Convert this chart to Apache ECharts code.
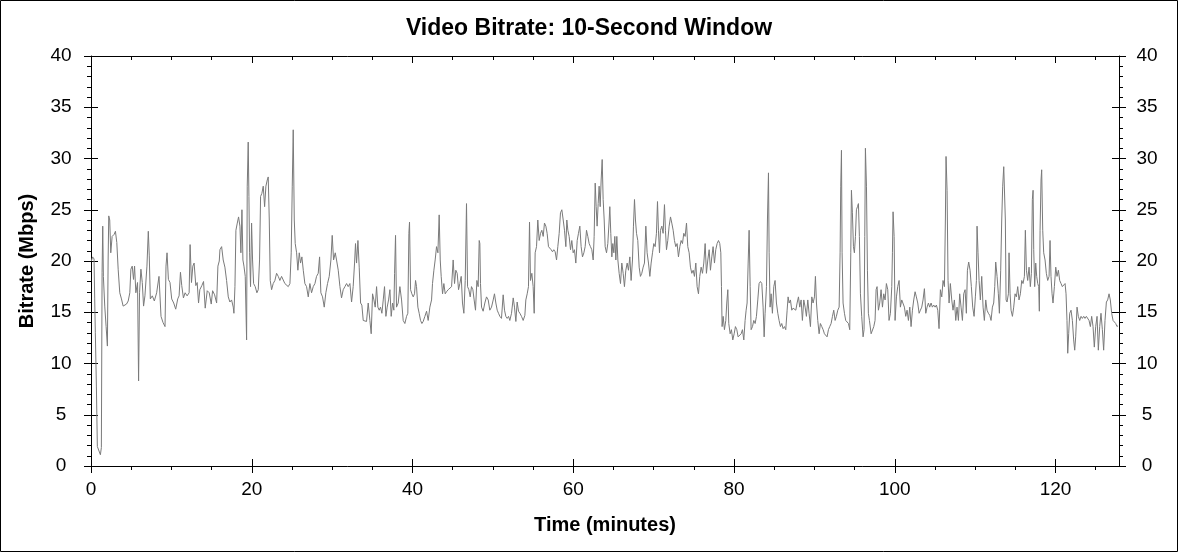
<!DOCTYPE html>
<html>
<head>
<meta charset="utf-8">
<script src="https://cdn.jsdelivr.net/npm/echarts@6/dist/echarts.min.js"></script>
<style>
html,body{margin:0;padding:0;background:#fff;}
#chart{width:1178px;height:552px;}
</style>
</head>
<body>
<div id="chart"></div>
<script>
// Time (minutes) vs video bitrate (Mbps), in segments
var bitrate_00_16 = [[0.04,20.0],[0.2,20.4],[0.38,20.2],[0.46,16.3],[0.54,13.0],[0.67,7.8],[0.79,1.9],[1.0,1.8],[1.17,1.1],[1.29,1.8],[1.38,18.9],[1.46,23.4],[1.54,18.5],[1.71,15.6],[1.88,13.6],[2.04,11.7],[2.13,20.0],[2.21,24.4],[2.33,24.0],[2.46,20.8],[2.63,22.4],[2.88,22.6],[3.04,22.9],[3.21,21.8],[3.38,19.2],[3.58,16.9],[3.79,16.3],[4.0,15.6],[4.42,15.8],[4.63,16.1],[4.83,16.9],[4.96,19.2],[5.13,19.5],[5.29,18.2],[5.42,19.5],[5.58,16.9],[5.79,17.9],[5.92,8.3],[6.04,16.9],[6.21,19.2],[6.38,17.9],[6.54,15.6],[6.71,16.6],[6.96,19.5],[7.13,22.9],[7.25,20.5],[7.38,16.3],[7.63,16.6],[7.88,16.1],[8.17,16.9],[8.46,18.5],[8.71,14.6],[8.96,14.0],[9.21,13.6],[9.33,19.5],[9.46,20.8],[9.63,18.2],[9.83,17.9],[10.04,16.3],[10.29,15.9],[10.54,15.3],[10.79,16.3],[10.96,16.6],[11.13,18.9],[11.29,17.6],[11.5,16.4],[11.71,16.9],[11.96,16.6],[12.21,16.9],[12.33,21.6],[12.5,17.9],[12.67,19.5],[12.83,19.8],[13.04,17.6],[13.21,17.9],[13.38,15.9],[13.54,17.2],[13.79,17.6],[14.0,18.0],[14.21,15.4],[14.46,17.1],[14.71,16.9],[14.96,15.8],[15.13,17.1],[15.38,16.7],[15.63,15.9],[15.79,19.5],[15.96,20.0]];

var bitrate_16_32 = [[16.04,21.1],[16.25,21.4],[16.45,20.1],[16.66,19.4],[16.87,18.1],[17.08,16.5],[17.28,16.0],[17.49,16.2],[17.70,15.5],[17.78,14.9],[17.91,17.5],[18.03,23.0],[18.20,23.7],[18.36,24.3],[18.53,23.4],[18.65,20.8],[18.78,25.0],[18.90,20.1],[19.03,19.5],[19.19,18.5],[19.36,12.3],[19.44,27.3],[19.56,31.6],[19.65,26.3],[19.73,20.8],[19.85,17.5],[19.98,23.7],[20.10,20.1],[20.23,17.8],[20.43,17.5],[20.64,16.9],[20.81,17.2],[20.97,20.1],[21.10,26.3],[21.26,26.6],[21.43,27.3],[21.60,25.3],[21.76,27.3],[21.93,27.9],[22.05,28.2],[22.18,24.0],[22.30,18.1],[22.47,17.2],[22.67,17.8],[22.88,18.1],[23.09,18.8],[23.30,18.5],[23.50,18.1],[23.71,18.5],[23.92,18.5],[24.12,17.8],[24.33,17.7],[24.54,17.5],[24.75,17.8],[24.91,20.8],[25.04,27.3],[25.16,32.8],[25.29,24.0],[25.41,21.7],[25.58,20.8],[25.74,19.1],[25.91,20.8],[26.07,19.8],[26.24,20.4],[26.41,19.1],[26.61,17.8],[26.82,17.5],[27.03,16.5],[27.23,17.8],[27.44,16.9],[27.65,17.5],[27.86,17.8],[28.06,18.5],[28.27,18.8],[28.44,20.4],[28.60,16.9],[28.81,16.5],[29.02,15.5],[29.22,16.9],[29.43,17.8],[29.64,18.5],[29.85,20.1],[30.01,22.5],[30.18,20.1],[30.39,20.8],[30.55,20.1],[30.76,19.1],[30.97,17.5],[31.17,16.4],[31.38,17.2],[31.59,17.5],[31.80,17.8],[32.00,17.5],[32.21,17.8]];

var bitrate_32_48 = [[32.42,16.0],[32.62,17.5],[32.79,19.8],[32.91,21.7],[33.04,19.8],[33.21,22.0],[33.37,19.4],[33.54,15.9],[33.70,15.7],[33.87,14.2],[34.08,14.2],[34.28,14.1],[34.49,15.9],[34.70,14.2],[34.86,12.9],[35.03,16.8],[35.20,16.2],[35.36,15.5],[35.53,17.5],[35.69,15.5],[35.86,15.2],[36.02,15.5],[36.19,14.9],[36.36,16.2],[36.52,17.5],[36.69,14.6],[36.85,15.5],[37.02,16.2],[37.19,17.2],[37.35,14.6],[37.52,15.9],[37.68,15.2],[37.77,18.8],[37.89,22.5],[38.01,15.5],[38.22,15.9],[38.43,17.5],[38.64,16.2],[38.84,14.2],[39.05,13.9],[39.26,14.6],[39.42,14.9],[39.55,22.7],[39.63,23.8],[39.76,17.2],[39.92,16.8],[40.09,16.5],[40.25,16.8],[40.38,18.1],[40.50,17.5],[40.67,15.5],[40.83,14.9],[41.00,14.2],[41.17,13.9],[41.33,14.1],[41.54,14.6],[41.75,15.1],[41.95,14.2],[42.16,15.5],[42.37,16.2],[42.49,17.8],[42.66,19.1],[42.82,20.1],[42.99,21.4],[43.16,20.8],[43.32,24.5],[43.45,20.1],[43.57,18.5],[43.74,16.8],[43.90,17.8],[44.07,16.8],[44.23,17.0],[44.44,17.2],[44.65,17.2],[44.86,17.5],[45.06,20.1],[45.23,17.8],[45.39,19.1],[45.56,18.8],[45.73,17.2],[45.89,17.8],[46.06,18.5],[46.22,15.9],[46.39,14.9],[46.56,18.1],[46.72,25.6],[46.85,17.5],[47.01,17.2],[47.18,16.5],[47.34,17.5],[47.51,17.2],[47.67,16.2],[47.84,15.2],[48.01,18.1],[48.17,17.5],[48.30,22.0]];

var bitrate_48_64 = [[48.38,21.7],[48.46,17.8],[48.59,15.5],[48.79,15.1],[49.00,15.9],[49.21,16.5],[49.42,16.2],[49.62,15.2],[49.83,15.5],[50.04,16.2],[50.20,16.8],[50.37,15.9],[50.54,15.2],[50.70,14.9],[50.87,14.6],[51.07,14.4],[51.28,16.7],[51.45,15.2],[51.61,14.6],[51.78,14.4],[51.95,14.6],[52.11,14.2],[52.32,14.9],[52.53,16.4],[52.69,15.5],[52.86,14.1],[53.02,16.0],[53.19,15.1],[53.36,14.9],[53.56,14.6],[53.77,14.2],[53.98,14.7],[54.10,16.2],[54.27,16.8],[54.43,17.5],[54.56,23.8],[54.68,18.1],[54.85,18.8],[55.01,17.5],[55.14,14.9],[55.26,20.8],[55.43,21.4],[55.59,24.0],[55.76,22.0],[55.93,22.7],[56.09,23.0],[56.26,22.4],[56.42,23.7],[56.59,23.4],[56.75,22.7],[56.92,21.4],[57.09,21.4],[57.25,21.1],[57.42,20.9],[57.58,21.1],[57.75,20.9],[57.92,20.1],[58.08,21.4],[58.25,22.7],[58.41,24.7],[58.58,25.0],[58.75,24.0],[58.91,23.0],[59.08,21.4],[59.20,24.0],[59.33,23.0],[59.49,22.4],[59.66,21.1],[59.82,22.0],[59.99,20.8],[60.15,21.1],[60.32,19.8],[60.49,22.0],[60.65,22.7],[60.82,23.4],[60.98,21.4],[61.15,20.4],[61.32,20.8],[61.48,21.4],[61.65,23.0],[61.81,22.4],[61.98,21.7],[62.14,21.4],[62.31,21.1],[62.48,20.1],[62.60,22.4],[62.73,27.6],[62.85,25.3],[62.97,23.4],[63.10,25.6],[63.22,27.3],[63.35,25.3],[63.47,27.9],[63.60,29.9],[63.72,26.0],[63.85,24.0],[63.97,21.4],[64.14,20.8],[64.30,21.7],[64.47,24.0]];

var bitrate_64_80 = [[64.55,25.3],[64.67,22.7],[64.80,20.4],[64.92,21.7],[65.05,20.8],[65.17,22.4],[65.30,20.1],[65.42,22.4],[65.55,20.1],[65.71,18.8],[65.88,17.8],[66.04,19.8],[66.21,18.8],[66.37,17.5],[66.54,19.1],[66.71,19.8],[66.87,19.1],[67.04,20.4],[67.20,18.1],[67.37,20.1],[67.49,23.4],[67.62,26.0],[67.74,24.0],[67.87,22.7],[68.03,22.0],[68.20,19.4],[68.36,18.5],[68.53,18.8],[68.70,19.4],[68.86,19.8],[69.03,23.4],[69.19,20.8],[69.36,19.8],[69.53,18.5],[69.69,19.8],[69.86,20.8],[70.02,21.7],[70.19,21.4],[70.35,22.7],[70.48,25.8],[70.60,23.0],[70.73,20.8],[70.85,23.0],[71.02,23.4],[71.18,22.7],[71.35,25.5],[71.47,23.0],[71.60,21.1],[71.76,22.0],[71.93,23.4],[72.10,24.3],[72.26,23.7],[72.43,23.0],[72.59,22.0],[72.76,21.4],[72.92,21.7],[73.09,20.4],[73.26,21.4],[73.42,22.0],[73.59,21.7],[73.75,22.7],[73.92,22.4],[74.09,23.7],[74.25,21.4],[74.42,20.8],[74.58,19.4],[74.75,18.8],[74.92,19.1],[75.08,18.5],[75.25,19.8],[75.41,17.5],[75.58,16.8],[75.74,18.5],[75.91,19.4],[76.08,18.8],[76.24,19.8],[76.41,21.7],[76.57,18.8],[76.74,20.1],[76.91,21.1],[77.07,19.1],[77.24,20.4],[77.40,21.4],[77.57,19.8],[77.73,21.1],[77.90,21.7],[78.07,22.0],[78.23,21.7],[78.36,20.8],[78.44,17.5],[78.52,13.6],[78.65,14.6],[78.81,13.3],[78.98,14.2],[79.10,15.9],[79.23,17.2],[79.35,13.9],[79.52,12.9],[79.68,13.3],[79.85,12.3],[80.02,12.9],[80.18,13.6],[80.35,13.3],[80.51,12.6],[80.68,12.5]];

var bitrate_80_97 = [[80.89,12.9],[81.05,13.3],[81.22,12.3],[81.38,14.2],[81.51,15.2],[81.63,15.9],[81.76,19.8],[81.88,23.0],[82.01,17.5],[82.13,13.3],[82.30,13.6],[82.46,14.2],[82.63,13.9],[82.79,14.6],[82.96,16.2],[83.12,17.8],[83.29,18.0],[83.46,17.8],[83.62,15.5],[83.75,12.6],[83.87,14.9],[84.04,17.5],[84.16,24.0],[84.29,28.6],[84.37,20.8],[84.49,15.5],[84.62,16.8],[84.78,14.9],[84.95,17.5],[85.11,18.1],[85.28,15.9],[85.45,14.9],[85.61,14.2],[85.78,13.6],[85.94,13.9],[86.11,13.4],[86.28,13.6],[86.44,13.3],[86.61,15.2],[86.73,16.5],[86.86,15.9],[87.02,16.2],[87.19,15.2],[87.35,15.4],[87.52,15.5],[87.69,15.2],[87.85,15.9],[88.02,16.5],[88.18,15.5],[88.35,16.2],[88.51,14.2],[88.68,16.2],[88.85,15.5],[89.01,14.6],[89.18,16.2],[89.34,14.9],[89.51,13.6],[89.68,16.5],[89.84,15.9],[90.01,16.5],[90.13,18.5],[90.26,15.9],[90.42,14.2],[90.59,12.9],[90.75,13.9],[90.92,13.6],[91.09,13.3],[91.25,12.9],[91.42,12.9],[91.58,12.6],[91.75,13.3],[91.91,13.6],[92.08,13.9],[92.25,14.6],[92.41,15.2],[92.58,14.2],[92.74,14.6],[92.91,15.2],[93.08,15.5],[93.20,20.8],[93.28,27.3],[93.37,30.8],[93.45,20.8],[93.57,15.9],[93.74,14.9],[93.90,14.2],[94.07,14.2],[94.24,13.9],[94.40,13.3],[94.53,20.8],[94.61,26.9],[94.73,24.7],[94.86,21.4],[94.98,20.8],[95.11,22.4],[95.23,25.0],[95.36,25.3],[95.48,25.6],[95.60,22.4],[95.73,16.8],[95.89,14.6],[96.06,12.6],[96.18,13.3],[96.27,22.4],[96.35,31.0],[96.48,27.3],[96.60,19.1],[96.72,14.9],[96.85,14.2]];

var bitrate_97_113 = [[97.06,12.9],[97.22,12.8],[97.39,13.6],[97.55,14.2],[97.68,17.2],[97.80,17.5],[97.97,15.2],[98.13,15.9],[98.30,17.2],[98.47,15.5],[98.63,16.8],[98.80,16.2],[98.96,17.8],[99.13,17.2],[99.29,14.2],[99.46,14.9],[99.63,17.5],[99.71,20.8],[99.79,24.8],[99.92,22.4],[100.04,14.2],[100.21,16.5],[100.37,17.5],[100.54,18.1],[100.70,15.5],[100.87,16.2],[101.04,16.2],[101.20,15.5],[101.37,14.6],[101.53,15.2],[101.70,14.2],[101.87,15.5],[102.03,13.6],[102.20,15.2],[102.36,16.2],[102.53,17.0],[102.69,16.5],[102.86,15.9],[103.03,14.9],[103.19,15.2],[103.36,15.5],[103.52,16.2],[103.69,17.3],[103.86,14.9],[104.02,15.5],[104.19,15.9],[104.35,15.5],[104.52,15.9],[104.68,15.5],[104.85,15.7],[105.02,15.5],[105.18,15.7],[105.35,15.2],[105.51,13.4],[105.68,17.2],[105.85,16.5],[106.01,18.1],[106.18,17.5],[106.30,24.0],[106.38,30.2],[106.51,26.9],[106.63,18.1],[106.76,15.9],[106.92,17.8],[107.09,16.2],[107.25,15.2],[107.42,16.2],[107.59,14.2],[107.75,15.5],[107.92,14.2],[108.08,16.8],[108.25,15.5],[108.42,14.2],[108.58,16.8],[108.75,17.2],[108.91,14.9],[109.04,19.1],[109.20,19.9],[109.37,19.1],[109.53,17.5],[109.70,15.5],[109.87,14.6],[110.03,16.5],[110.16,18.1],[110.24,23.4],[110.36,20.8],[110.49,18.1],[110.65,16.2],[110.82,18.5],[110.99,15.5],[111.15,14.2],[111.32,16.2],[111.48,15.2],[111.65,14.9],[111.82,14.7],[111.98,14.2],[112.15,15.5],[112.31,15.9],[112.44,17.5],[112.56,19.9],[112.73,18.5],[112.89,16.8],[113.02,14.9]];

var bitrate_113_128 = [[113.18,19.1],[113.31,24.0],[113.43,27.3],[113.56,29.2],[113.68,29.2],[113.76,24.0],[113.85,16.2],[113.97,16.0],[114.14,16.8],[114.22,20.8],[114.35,16.8],[114.47,15.2],[114.64,14.6],[114.80,15.5],[114.97,16.8],[115.13,16.5],[115.30,17.5],[115.46,16.2],[115.63,16.8],[115.80,18.1],[115.96,17.8],[116.13,18.5],[116.25,23.0],[116.38,19.1],[116.54,18.1],[116.71,19.4],[116.87,17.5],[117.00,18.8],[117.12,26.0],[117.21,26.9],[117.29,21.1],[117.41,17.5],[117.54,19.8],[117.66,18.5],[117.79,17.8],[117.91,17.5],[117.99,15.1],[118.08,23.0],[118.20,27.9],[118.28,28.9],[118.41,23.0],[118.53,20.8],[118.70,20.1],[118.86,18.8],[119.03,18.1],[119.20,18.5],[119.32,22.0],[119.44,18.5],[119.57,16.8],[119.69,15.9],[119.86,17.5],[120.03,19.4],[120.19,18.5],[120.36,19.1],[120.52,18.1],[120.69,17.8],[120.85,17.5],[121.02,17.5],[121.19,17.8],[121.31,16.8],[121.43,14.2],[121.52,11.0],[121.64,12.9],[121.77,14.9],[121.93,15.2],[122.10,14.2],[122.26,12.3],[122.39,11.3],[122.51,12.6],[122.68,15.5],[122.84,14.6],[123.01,14.2],[123.18,14.6],[123.34,14.4],[123.51,14.6],[123.67,14.4],[123.84,14.6],[124.01,14.7],[124.17,14.2],[124.34,13.6],[124.50,14.6],[124.67,13.6],[124.83,11.6],[125.00,13.6],[125.17,14.6],[125.33,11.3],[125.50,13.6],[125.66,14.9],[125.83,13.3],[125.99,11.3],[126.16,14.2],[126.33,16.0],[126.49,16.2],[126.66,16.8],[126.82,16.2],[126.99,14.9],[127.16,14.2],[127.32,14.2],[127.49,13.9],[127.65,13.6],[127.78,13.7]];

var xMajorTicks = [0, 20, 40, 60, 80, 100, 120];
var xMinorTicks = [5, 10, 15, 25, 30, 35, 45, 50, 55, 65, 70, 75, 85, 90, 95, 105, 110, 115, 125];
var xMax = 127.9;
var yMin = 0, yMax = 40, yStep = 5;

var titleText = 'Video Bitrate: 10-Second Window';
var xName = 'Time (minutes)';
var yName = 'Bitrate (Mbps)';

var series = [].concat(bitrate_00_16, bitrate_16_32, bitrate_32_48, bitrate_48_64,
                       bitrate_64_80, bitrate_80_97, bitrate_97_113, bitrate_113_128);

var FONT = 'Liberation Sans, Arial, sans-serif';
var BLACK = '#000';

function xAx(o) {
  return Object.assign({
    type: 'value', min: 0, max: xMax, position: 'bottom',
    axisLine: { show: false, onZero: false, lineStyle: { color: BLACK, width: 1 } },
    axisTick: { show: false },
    axisLabel: { show: false },
    splitLine: { show: false }
  }, o);
}
function yAx(o) {
  return Object.assign({
    type: 'value', min: yMin, max: yMax, interval: yStep, position: 'left',
    axisLine: { show: false, onZero: false, lineStyle: { color: BLACK, width: 1 } },
    axisTick: { show: false },
    axisLabel: { show: false },
    splitLine: { show: false }
  }, o);
}

var chart = echarts.init(document.getElementById('chart'), null, { renderer: 'canvas' });
chart.setOption({
  animation: false,
  backgroundColor: '#fff',
  textStyle: { fontFamily: FONT },
  title: {
    text: titleText, left: 'center', top: 17, padding: 0,
    textStyle: { fontFamily: FONT, fontSize: 23, fontWeight: 'bold', color: BLACK }
  },
  graphic: [{
    type: 'rect', silent: true, z: 100,
    shape: { x: 0.5, y: 0.5, width: 1177, height: 551 },
    style: { fill: 'none', stroke: BLACK, lineWidth: 1 }
  }],
  grid: { left: 91, right: 59, top: 56, bottom: 86, containLabel: false },
  xAxis: [
    xAx({
      name: xName, nameLocation: 'middle', nameGap: 49,
      nameTextStyle: { fontFamily: FONT, fontSize: 20, fontWeight: 'bold', color: BLACK },
      axisLine: { show: true, onZero: false, lineStyle: { color: BLACK, width: 1 } },
      axisTick: { show: true, customValues: xMajorTicks, length: 7, lineStyle: { color: BLACK } },
      axisLabel: { show: true, customValues: xMajorTicks, margin: 14, color: BLACK, fontSize: 19, fontFamily: FONT }
    }),
    xAx({ axisTick: { show: true, inside: true, customValues: xMajorTicks, length: 7, lineStyle: { color: BLACK } } }),
    xAx({ axisTick: { show: true, customValues: xMinorTicks, length: 4, lineStyle: { color: BLACK } } }),
    xAx({
      position: 'top',
      axisLine: { show: true, onZero: false, lineStyle: { color: BLACK, width: 1 } },
      axisTick: { show: true, inside: true, customValues: xMajorTicks, length: 7, lineStyle: { color: BLACK } }
    }),
    xAx({ position: 'top', axisTick: { show: true, inside: true, customValues: xMinorTicks, length: 4, lineStyle: { color: BLACK } } })
  ],
  yAxis: [
    yAx({
      name: yName, nameLocation: 'middle', nameGap: 54, nameRotate: 90,
      nameTextStyle: { fontFamily: FONT, fontSize: 20, fontWeight: 'bold', color: BLACK },
      axisLine: { show: true, onZero: false, lineStyle: { color: BLACK, width: 1 } },
      axisTick: { show: true, length: 7, lineStyle: { color: BLACK } },
      minorTick: { show: true, splitNumber: 5, length: 4, lineStyle: { color: BLACK } },
      axisLabel: { show: true, margin: 30, align: 'center', color: BLACK, fontSize: 19, fontFamily: FONT }
    }),
    yAx({ axisTick: { show: true, inside: true, length: 7, lineStyle: { color: BLACK } } }),
    yAx({
      position: 'right',
      axisLine: { show: true, onZero: false, lineStyle: { color: BLACK, width: 1 } },
      axisTick: { show: true, length: 7, lineStyle: { color: BLACK } },
      minorTick: { show: true, splitNumber: 5, length: 4, lineStyle: { color: BLACK } },
      axisLabel: { show: true, margin: 28, align: 'center', color: BLACK, fontSize: 19, fontFamily: FONT }
    }),
    yAx({ position: 'right', axisTick: { show: true, inside: true, length: 7, lineStyle: { color: BLACK } } })
  ],
  series: [{
    type: 'line',
    xAxisIndex: 0, yAxisIndex: 0,
    data: series,
    showSymbol: false,
    symbol: 'none',
    lineStyle: { color: '#7a7a7a', width: 1 },
    itemStyle: { color: '#7a7a7a' },
    silent: true
  }]
});
</script>
</body>
</html>
